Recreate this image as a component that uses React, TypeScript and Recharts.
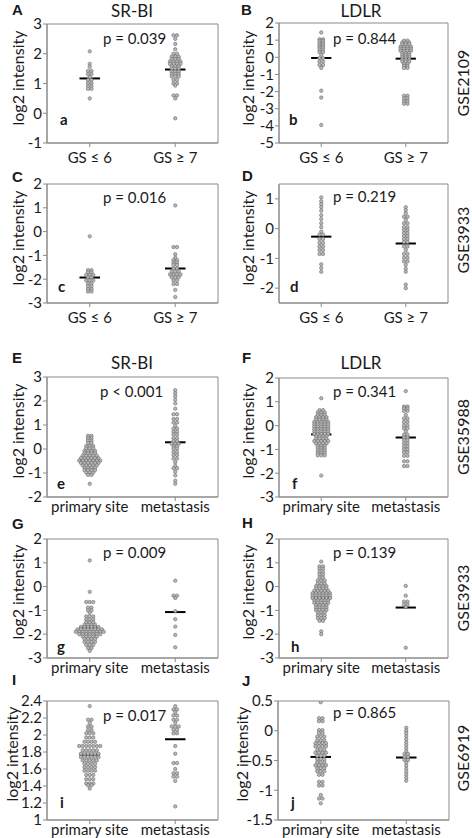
import React from 'react';
import { ScatterChart, Scatter, XAxis, YAxis, ReferenceLine, ReferenceArea } from 'recharts';

// Each row: [log2 intensity, number of samples drawn side by side at that level]
type Row = [number, number];

// A: SR-BI, GSE2109, Gleason score
const aGsLow: Row[] = [[2.08,1],[1.66,1],[1.56,1],[1.42,2],[1.32,2],[1.22,1],[1.12,2],[1.02,2],[0.92,2],[0.82,2],[0.5,1]];
const aGsHigh: Row[] = [[2.62,2],[2.5,1],[2.33,1],[2.15,1],[2.0,2],[1.9,3],[1.82,3],[1.74,4],[1.66,4],[1.58,3],[1.5,3],[1.4,3],[1.32,3],[1.24,3],[1.12,2],[1.0,2],[0.93,1],[0.6,2],[0.5,1],[-0.17,1]];
const aMeans = [1.17, 1.47];

// B: LDLR, GSE2109, Gleason score
const bGsLow: Row[] = [[1.45,1],[1.05,2],[0.95,2],[0.82,2],[0.7,2],[0.58,2],[0.45,2],[0.3,2],[0.15,1],[-0.05,2],[-0.25,2],[-0.45,2],[-0.62,1],[-1.95,1],[-2.35,1],[-3.95,1]];
const bGsHigh: Row[] = [[0.97,2],[0.86,3],[0.75,3],[0.62,4],[0.5,4],[0.38,4],[0.25,3],[0.12,3],[0.0,3],[-0.12,3],[-0.25,3],[-0.38,2],[-0.5,2],[-0.62,2],[-2.24,2],[-2.4,2],[-2.57,2],[-2.71,2]];
const bMeans = [-0.04, -0.08];

// C: SR-BI, GSE3933, Gleason score
const cGsLow: Row[] = [[-0.2,1],[-1.62,2],[-1.72,2],[-1.82,3],[-1.92,2],[-2.05,3],[-2.18,2],[-2.3,2],[-2.42,2],[-2.52,2]];
const cGsHigh: Row[] = [[1.1,1],[-0.65,2],[-0.95,1],[-1.1,1],[-1.2,2],[-1.3,2],[-1.4,2],[-1.55,2],[-1.68,3],[-1.8,4],[-1.92,3],[-2.05,2],[-2.2,2],[-2.45,1],[-2.75,1]];
const cMeans = [-1.93, -1.55];

// D: LDLR, GSE3933, Gleason score
const dGsLow: Row[] = [[1.05,1],[0.92,1],[0.82,1],[0.72,1],[0.6,1],[0.45,1],[0.32,1],[0.18,1],[0.05,1],[-0.1,1],[-0.2,2],[-0.35,2],[-0.48,2],[-0.6,2],[-0.72,2],[-0.85,2],[-1.2,1],[-1.32,1],[-1.45,1]];
const dGsHigh: Row[] = [[0.72,1],[0.62,1],[0.52,1],[0.4,2],[0.3,1],[0.18,2],[0.05,2],[-0.05,2],[-0.15,2],[-0.25,2],[-0.35,2],[-0.45,2],[-0.6,2],[-0.72,1],[-0.85,2],[-0.98,2],[-1.1,2],[-1.22,1],[-1.35,1],[-1.45,1],[-1.88,1],[-2.0,1]];
const dMeans = [-0.27, -0.5];

// E: SR-BI, GSE35988, primary vs metastasis
const ePrimary: Row[] = [[0.55,2],[0.45,2],[0.35,2],[0.25,2],[0.12,3],[0.02,3],[-0.08,4],[-0.18,4],[-0.28,5],[-0.38,6],[-0.48,7],[-0.58,6],[-0.68,5],[-0.78,4],[-0.88,4],[-0.98,3],[-1.08,2],[-1.45,1]];
const eMetastasis: Row[] = [[2.45,1],[2.32,1],[2.2,1],[2.05,1],[1.9,1],[1.68,1],[1.45,2],[1.25,2],[1.1,2],[0.95,1],[0.85,2],[0.72,2],[0.6,2],[0.45,2],[0.32,2],[0.22,3],[0.12,2],[0.02,2],[-0.12,2],[-0.25,2],[-0.4,2],[-0.55,1],[-0.7,1],[-0.8,2],[-0.95,1],[-1.1,1],[-1.32,1],[-1.45,1]];
const eMeans = [-0.47, 0.28];

// F: LDLR, GSE35988, primary vs metastasis
const fPrimary: Row[] = [[1.15,1],[0.65,2],[0.55,3],[0.45,3],[0.35,4],[0.25,4],[0.15,5],[0.05,5],[-0.05,5],[-0.15,5],[-0.25,5],[-0.35,5],[-0.45,4],[-0.55,4],[-0.65,5],[-0.75,4],[-0.85,3],[-0.95,3],[-1.05,3],[-1.15,3],[-1.25,3],[-2.1,1]];
const fMetastasis: Row[] = [[1.45,1],[0.8,2],[0.72,2],[0.62,2],[0.45,1],[0.3,2],[0.15,2],[0.0,2],[-0.12,2],[-0.25,1],[-0.38,2],[-0.5,2],[-0.62,2],[-0.75,2],[-0.88,2],[-1.0,2],[-1.12,2],[-1.27,2],[-1.5,2],[-1.7,2]];
const fMeans = [-0.37, -0.5];

// G: SR-BI, GSE3933, primary vs metastasis
const gPrimary: Row[] = [[1.1,1],[-0.22,1],[-0.65,3],[-0.88,2],[-1.0,2],[-1.1,1],[-1.25,3],[-1.38,3],[-1.5,3],[-1.6,4],[-1.7,6],[-1.8,8],[-1.9,9],[-2.0,7],[-2.1,5],[-2.2,4],[-2.32,4],[-2.45,3],[-2.58,2],[-2.7,1]];
const gMetastasis: Row[] = [[0.25,1],[-0.38,2],[-0.48,1],[-1.03,1],[-1.37,1],[-1.68,1],[-2.03,1],[-2.55,1]];
const gMeans = [-1.72, -1.07];

// H: LDLR, GSE3933, primary vs metastasis
const hPrimary: Row[] = [[1.05,1],[0.85,2],[0.75,2],[0.62,2],[0.5,2],[0.38,2],[0.25,3],[0.12,3],[0.02,4],[-0.08,4],[-0.18,5],[-0.28,6],[-0.38,6],[-0.48,6],[-0.58,5],[-0.68,5],[-0.78,4],[-0.88,4],[-0.98,4],[-1.08,3],[-1.2,3],[-1.32,3],[-1.44,2],[-1.88,1],[-2.0,1]];
const hMetastasis: Row[] = [[0.03,1],[-0.38,1],[-0.63,2],[-0.76,2],[-0.86,1],[-2.57,1]];
const hMeans = [-0.47, -0.88];

// I: SR-BI, GSE6919, primary vs metastasis
const iPrimary: Row[] = [[2.34,1],[2.18,2],[2.14,1],[2.1,2],[2.06,2],[2.02,3],[1.97,3],[1.92,4],[1.87,7],[1.82,5],[1.78,6],[1.74,6],[1.7,5],[1.66,4],[1.62,4],[1.58,4],[1.53,3],[1.48,3],[1.43,3],[1.41,2],[1.37,1]];
const iMetastasis: Row[] = [[2.34,1],[2.3,2],[2.27,1],[2.23,2],[2.18,2],[2.14,1],[2.1,3],[2.06,2],[2.02,2],[1.87,1],[1.78,1],[1.67,2],[1.6,1],[1.55,2],[1.51,2],[1.46,1],[1.16,1]];
const iMeans = [1.77, 1.95];

// J: LDLR, GSE6919, primary vs metastasis
const jPrimary: Row[] = [[0.48,1],[0.21,2],[0.16,2],[0.01,2],[-0.04,2],[-0.1,3],[-0.16,3],[-0.21,4],[-0.26,4],[-0.32,3],[-0.37,4],[-0.42,3],[-0.48,3],[-0.53,3],[-0.58,4],[-0.63,3],[-0.68,3],[-0.74,2],[-0.86,2],[-0.92,2],[-1.08,1],[-1.14,2],[-1.22,1]];
const jMetastasis: Row[] = [[0.05,1],[0.0,1],[-0.04,1],[-0.09,1],[-0.14,1],[-0.19,1],[-0.24,1],[-0.29,1],[-0.34,1],[-0.39,2],[-0.44,2],[-0.49,2],[-0.54,1],[-0.59,1],[-0.64,1],[-0.69,1],[-0.74,1],[-0.79,1],[-0.84,1]];
const jMeans = [-0.44, -0.45];

const gsCategories = ['GS ≤ 6', 'GS ≥ 7'];
const siteCategories = ['primary site', 'metastasis'];

const ticksA = [-1, 0, 1, 2, 3];
const ticksB = [-5, -4, -3, -2, -1, 0, 1, 2];
const ticksC = [-3, -2, -1, 0, 1, 2];
const ticksD = [-2, -1, 0, 1];
const ticksE = [-2, -1, 0, 1, 2, 3];
const ticksFGH = [-3, -2, -1, 0, 1, 2];
const ticksI = [1, 1.2, 1.4, 1.6, 1.8, 2, 2.2, 2.4];
const ticksJ = [-1.5, -1, -0.5, 0, 0.5];

const FONT = 'Lato, "Open Sans", sans-serif';
const TEXT = '#1a1a1a';
const AXIS = '#8a8a8a';

type Panel = {
  id: string; low: Row[]; high: Row[]; means: number[]; cats: string[];
  domain: [number, number]; ticks: number[];
  col: 0 | 1; top: number; bottom: number; gap: number; yw?: number; mr?: number;
  letter: [number, number]; sub: string; subPos: [number, number];
  p: string; pPos: [number, number]; title?: string; titlePos?: [number, number];
  ylabel: [number, number]; gse?: string; gsePos?: [number, number];
};

const panels: Panel[] = [
  { id: 'A', low: aGsLow, high: aGsHigh, means: aMeans, cats: gsCategories, domain: [-1, 3], ticks: ticksA, col: 0, top: 24, bottom: 143, gap: 5,
    letter: [12, 15], sub: 'a', subPos: [60, 125], p: 'p = 0.039', pPos: [103, 44], title: 'SR-BI', titlePos: [132, 17], ylabel: [17, 78] },
  { id: 'B', low: bGsLow, high: bGsHigh, means: bMeans, cats: gsCategories, domain: [-5, 2], ticks: ticksB, col: 1, top: 23, bottom: 143, gap: 5,
    letter: [241, 15], sub: 'b', subPos: [289, 125], p: 'p = 0.844', pPos: [333, 44], title: 'LDLR', titlePos: [361, 17], ylabel: [247, 78], gse: 'GSE2109', gsePos: [462, 83] },
  { id: 'C', low: cGsLow, high: cGsHigh, means: cMeans, cats: gsCategories, domain: [-3, 2], ticks: ticksC, col: 0, top: 184, bottom: 303, gap: 5,
    letter: [12, 182], sub: 'c', subPos: [58, 292], p: 'p = 0.016', pPos: [103, 203], ylabel: [17, 238] },
  { id: 'D', low: dGsLow, high: dGsHigh, means: dMeans, cats: gsCategories, domain: [-2.5, 1.5], ticks: ticksD, col: 1, top: 184, bottom: 303, gap: 5,
    letter: [242, 181], sub: 'd', subPos: [290, 292], p: 'p = 0.219', pPos: [333, 202], ylabel: [247, 238], gse: 'GSE3933', gsePos: [462, 240] },
  { id: 'E', low: ePrimary, high: eMetastasis, means: eMeans, cats: siteCategories, domain: [-2, 3], ticks: ticksE, col: 0, top: 377, bottom: 497, gap: 0,
    letter: [12, 363], sub: 'e', subPos: [57, 489], p: 'p < 0.001', pPos: [100, 397], title: 'SR-BI', titlePos: [132, 369], ylabel: [17, 431] },
  { id: 'F', low: fPrimary, high: fMetastasis, means: fMeans, cats: siteCategories, domain: [-3, 2], ticks: ticksFGH, col: 1, top: 378, bottom: 497, gap: 0,
    letter: [242, 363], sub: 'f', subPos: [292, 489], p: 'p = 0.341', pPos: [333, 397], title: 'LDLR', titlePos: [361, 369], ylabel: [247, 431], gse: 'GSE35988', gsePos: [462, 437] },
  { id: 'G', low: gPrimary, high: gMetastasis, means: gMeans, cats: siteCategories, domain: [-3, 2], ticks: ticksFGH, col: 0, top: 539, bottom: 658, gap: 0,
    letter: [12, 529], sub: 'g', subPos: [57, 652], p: 'p = 0.009', pPos: [103, 558], ylabel: [17, 592] },
  { id: 'H', low: hPrimary, high: hMetastasis, means: hMeans, cats: siteCategories, domain: [-3, 2], ticks: ticksFGH, col: 1, top: 539, bottom: 658, gap: 0,
    letter: [242, 528], sub: 'h', subPos: [291, 652], p: 'p = 0.139', pPos: [333, 558], ylabel: [247, 592], gse: 'GSE3933', gsePos: [462, 598] },
  { id: 'I', low: iPrimary, high: iMetastasis, means: iMeans, cats: siteCategories, domain: [1, 2.4], ticks: ticksI, col: 0, top: 701, bottom: 820, gap: 0,
    letter: [12, 685], sub: 'i', subPos: [60, 808], p: 'p = 0.017', pPos: [103, 721], ylabel: [11, 754] },
  { id: 'J', low: jPrimary, high: jMetastasis, means: jMeans, cats: siteCategories, domain: [-1.5, 0.5], ticks: ticksJ, col: 1, top: 701, bottom: 820, gap: 0, yw: 42, mr: 23,
    letter: [242, 686], sub: 'j', subPos: [291, 808], p: 'p = 0.865', pPos: [333, 718], ylabel: [241, 754], gse: 'GSE6919', gsePos: [462, 758] },
];

function swarm(rows: Row[], center: number, step: number) {
  const pts: { x: number; y: number }[] = [];
  rows.forEach(([v, n]) => {
    for (let i = 0; i < n; i++) pts.push({ x: center + (i - (n - 1) / 2) * step, y: v });
  });
  return pts;
}

const Dot = (props: any) => {
  const { cx, cy } = props;
  if (cx == null || cy == null) return <g />;
  return <circle cx={cx} cy={cy} r={1.7} fill="#b8b8b8" stroke="#6a6a6a" strokeWidth={0.6} />;
};

function PanelChart({ p }: { p: Panel }) {
  const col = p.col === 0 ? { left: 0, yw: 47, mr: 18 } : { left: 236, yw: 43, mr: 24 };
  const yw = p.yw ?? col.yw;
  const mr = p.mr ?? col.mr;
  const mt = 10;
  const xh = 30;
  const height = mt + (p.bottom - p.top) + xh;
  const pts = [...swarm(p.low, 1, 0.041), ...swarm(p.high, 2, 0.041)];
  return (
    <div style={{ position: 'absolute', left: col.left, top: p.top - mt }}>
      <ScatterChart width={236} height={height} margin={{ top: mt, right: mr, bottom: 0, left: 0 }}>
        <XAxis type="number" dataKey="x" domain={[0.5, 2.5]} ticks={[1, 2]} interval={0} allowDataOverflow
          tickFormatter={(v: number) => p.cats[Math.round(v) - 1]} height={xh} stroke={AXIS}
          tickSize={4} tickMargin={p.gap} tick={{ fill: TEXT, fontSize: 15 }} />
        <YAxis type="number" dataKey="y" domain={p.domain} ticks={p.ticks} interval={0} allowDataOverflow
          width={yw} stroke={AXIS} tickSize={4} tickMargin={1} tick={{ fill: TEXT, fontSize: 15 }} />
        <ReferenceArea x1={0.5} x2={2.5} y1={p.domain[0]} y2={p.domain[1]} fill="none" fillOpacity={0} stroke={AXIS} strokeWidth={1} />
        <Scatter data={pts} shape={Dot} isAnimationActive={false} />
        {p.means.map((m, i) => (
          <ReferenceLine key={i} segment={[{ x: i + 1 - 0.12, y: m }, { x: i + 1 + 0.12, y: m }]} stroke="#000" strokeWidth={2} />
        ))}
      </ScatterChart>
    </div>
  );
}

export default function App() {
  return (
    <div style={{ position: 'absolute', left: 0, top: 0, width: 472, height: 838, background: '#fff', fontFamily: FONT, overflow: 'hidden' }}>
      {panels.map((p) => <PanelChart key={p.id} p={p} />)}
      <svg width={472} height={838} style={{ position: 'absolute', left: 0, top: 0, pointerEvents: 'none' }} fontFamily={FONT}>
        {panels.map((p) => (
          <g key={p.id}>
            <text x={p.letter[0]} y={p.letter[1]} fontFamily='"Liberation Sans", Arial, sans-serif' fontWeight={700} fontSize={15} fill={TEXT}>{p.id}</text>
            <text x={p.subPos[0]} y={p.subPos[1]} fontWeight={700} fontSize={15} fill={TEXT}>{p.sub}</text>
            <text x={p.pPos[0]} y={p.pPos[1]} fontSize={15} fill={TEXT}>{p.p}</text>
            {p.title && p.titlePos && (
              <text x={p.titlePos[0]} y={p.titlePos[1]} fontSize={17} textAnchor="middle" fill={TEXT}>{p.title}</text>
            )}
            <text x={p.ylabel[0]} y={p.ylabel[1]} fontSize={16} textAnchor="middle" dominantBaseline="central" fill={TEXT}
              transform={`rotate(-90 ${p.ylabel[0]} ${p.ylabel[1]})`}>log2 intensity</text>
            {p.gse && p.gsePos && (
              <text x={p.gsePos[0]} y={p.gsePos[1]} fontSize={16} textAnchor="middle" dominantBaseline="central" fill={TEXT}
                transform={`rotate(-90 ${p.gsePos[0]} ${p.gsePos[1]})`}>{p.gse}</text>
            )}
          </g>
        ))}
      </svg>
    </div>
  );
}
